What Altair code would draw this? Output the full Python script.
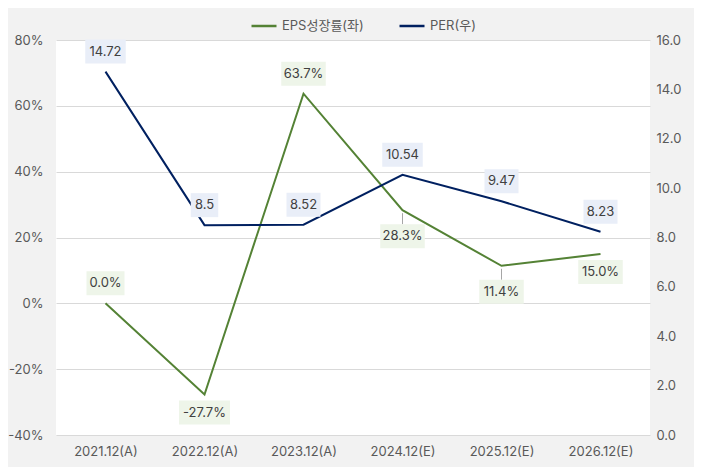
import altair as alt
import pandas as pd

categories = ["2021.12(A)", "2022.12(A)", "2023.12(A)", "2024.12(E)", "2025.12(E)", "2026.12(E)"]
eps_growth = [0.0, -27.7, 63.7, 28.3, 11.4, 15.0]
per = [14.72, 8.5, 8.52, 10.54, 9.47, 8.23]
eps_label_side = ["above", "below", "above", "leader", "leader", "below"]

eps_name = "EPS성장률(좌)"
per_name = "PER(우)"
GREEN = "#548235"
NAVY = "#002060"
FONT = "Inter, 'Noto Sans CJK KR', sans-serif"
TXT = "#595959"

df = pd.DataFrame({"cat": categories, "eps": eps_growth, "per": per, "side": eps_label_side})
base = alt.Chart(df)

x_enc = alt.X("cat:N", sort=categories, scale=alt.Scale(type="point", padding=0.5),
              axis=alt.Axis(title=None, labelAngle=0, domain=False, ticks=False, grid=False,
                            labelPadding=10, labelFontSize=13, labelColor=TXT, labelFont=FONT))
x2_enc = alt.X2("cat:N")

eps_scale = alt.Scale(domain=[-40, 80], nice=False, zero=False)
per_scale = alt.Scale(domain=[0, 16], nice=False, zero=False)

left_axis = alt.Axis(title=None, orient="left", values=[-40, -20, 0, 20, 40, 60, 80],
                     labelExpr="datum.value + '%'", grid=True, gridColor="#d9d9d9",
                     domain=False, ticks=False, labelPadding=13, labelFontSize=13,
                     labelColor=TXT, labelFont=FONT)
right_axis = alt.Axis(title=None, orient="right", values=[0, 2, 4, 6, 8, 10, 12, 14, 16],
                      format=".1f", grid=False, domain=False, ticks=False, labelPadding=6,
                      labelFontSize=13, labelColor=TXT, labelFont=FONT)

color_enc = alt.Color("series:N", scale=alt.Scale(domain=[eps_name, per_name], range=[GREEN, NAVY]),
                      legend=alt.Legend(title=None, orient="none", legendX=194, legendY=-28,
                                        direction="horizontal", symbolType="stroke",
                                        symbolSize=625, symbolStrokeWidth=2.5, labelFontSize=13,
                                        labelColor=TXT, labelFont=FONT, columnPadding=30,
                                        labelOffset=4))

eps_line = base.transform_calculate(series=f"'{eps_name}'").mark_line(strokeWidth=2).encode(
    x=x_enc, y=alt.Y("eps:Q", scale=eps_scale, axis=left_axis), color=color_enc)
per_line = base.transform_calculate(series=f"'{per_name}'").mark_line(strokeWidth=2).encode(
    x=x_enc, y=alt.Y("per:Q", scale=per_scale, axis=right_axis), color=color_enc)

wexpr = "length(datum.lbl) * 6.5 + 8 + (indexof(datum.lbl, '%') >= 0 ? 4 : 0)"

eps_lbl = base.transform_calculate(
    lbl="(datum.eps < 0 ? '-' : '') + format(abs(datum.eps), '.1f') + '%'",
    dy="datum.side == 'above' ? -20 : (datum.side == 'leader' ? 26 : 18)",
).transform_calculate(w=wexpr)
per_lbl = base.transform_calculate(lbl="'' + datum.per", dy="-20").transform_calculate(w=wexpr)

eps_conn = eps_lbl.transform_filter("datum.side == 'leader'").mark_rule(
    color="#a6a6a6", strokeWidth=1, yOffset=3, y2Offset=alt.expr("datum.dy - 12")).encode(
    x=x_enc, y=alt.Y("eps:Q", scale=eps_scale, axis=None), y2="eps:Q")

def boxes(src, field, scale, fill):
    return src.mark_rect(color=fill, xOffset=alt.expr("-datum.w/2"), x2Offset=alt.expr("datum.w/2"),
                         yOffset=alt.expr("datum.dy - 12"), y2Offset=alt.expr("datum.dy + 12")).encode(
        x=x_enc, x2=x2_enc, y=alt.Y(f"{field}:Q", scale=scale, axis=None), y2=f"{field}:Q")

def texts(src, field, scale):
    return src.mark_text(font=FONT, fontSize=13, color="#404040", baseline="middle",
                         yOffset=alt.expr("datum.dy")).encode(
        x=x_enc, y=alt.Y(f"{field}:Q", scale=scale, axis=None), text="lbl:N")

chart = alt.layer(
    eps_line, per_line, eps_conn,
    boxes(eps_lbl, "eps", eps_scale, "#eef5e9"), boxes(per_lbl, "per", per_scale, "#e9eef8"),
    texts(eps_lbl, "eps", eps_scale), texts(per_lbl, "per", per_scale),
).resolve_scale(y="independent").properties(
    width=594, height=395,
    autosize=alt.AutoSizeParams(type="none"),
    padding={"left": 48, "top": 32, "right": 44, "bottom": 32},
).configure(background="#f2f2f2").configure_view(fill="white", stroke=None)

chart.save("out.html", embed_options={"renderer": "svg", "actions": False})
